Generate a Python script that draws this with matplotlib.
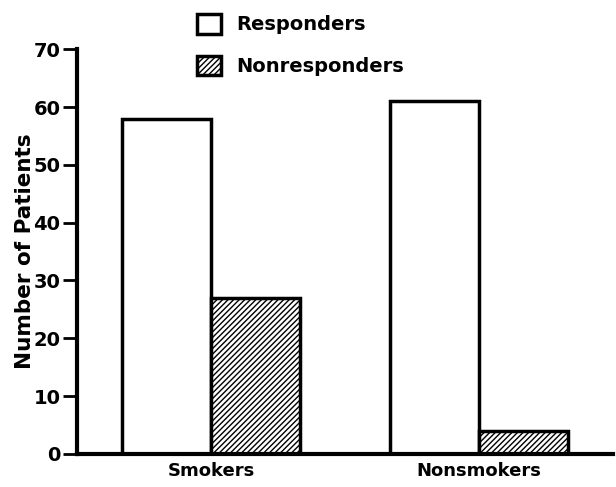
import numpy as np
import matplotlib.pyplot as plt
from matplotlib.patches import Patch

plt.rcParams['font.family'] = ['DejaVu Sans']
plt.rcParams['font.weight'] = 'bold'
plt.rcParams['hatch.linewidth'] = 1.0

# datos
groups = ['Smokers', 'Nonsmokers']
responders = [58, 61]
nonresponders = [27, 4]
series_labels = ['Responders', 'Nonresponders']

fig = plt.figure(figsize=(6.16, 4.87), dpi=100)
ax = fig.add_axes([0.125, 0.068, 0.87, 0.831])

x = np.arange(len(groups))
w = 0.333
ax.bar(x - w/2, responders, w, color='white', edgecolor='black', linewidth=2.5)
ax.bar(x + w/2, nonresponders, w, color='white', edgecolor='black', linewidth=2.5, hatch='//////')

ax.set_xlim(-0.5, 1.5)
ax.set_ylim(0, 70)
ax.set_yticks(np.arange(0, 71, 10))
ax.set_xticks(x)
ax.set_xticklabels(groups, fontsize=13, fontweight='bold')
ax.tick_params(axis='y', labelsize=14, width=2, length=10, direction='out', pad=2)
ax.tick_params(axis='x', length=0, pad=6)
ax.set_ylabel('Number of Patients', fontsize=15.5, fontweight='bold', labelpad=-1)

for s in ['top', 'right']:
    ax.spines[s].set_visible(False)
for s in ['left', 'bottom']:
    ax.spines[s].set_linewidth(3)

handles = [Patch(facecolor='white', edgecolor='black', linewidth=2.5),
           Patch(facecolor='white', edgecolor='black', linewidth=2.5, hatch='//////')]
fig.legend(handles, series_labels, loc='upper left', bbox_to_anchor=(0.292, 1.008),
           frameon=False, fontsize=14, handlelength=1.2, handleheight=1.2,
           labelspacing=1.1, handletextpad=0.8)

fig.savefig('out.png', dpi=100)
